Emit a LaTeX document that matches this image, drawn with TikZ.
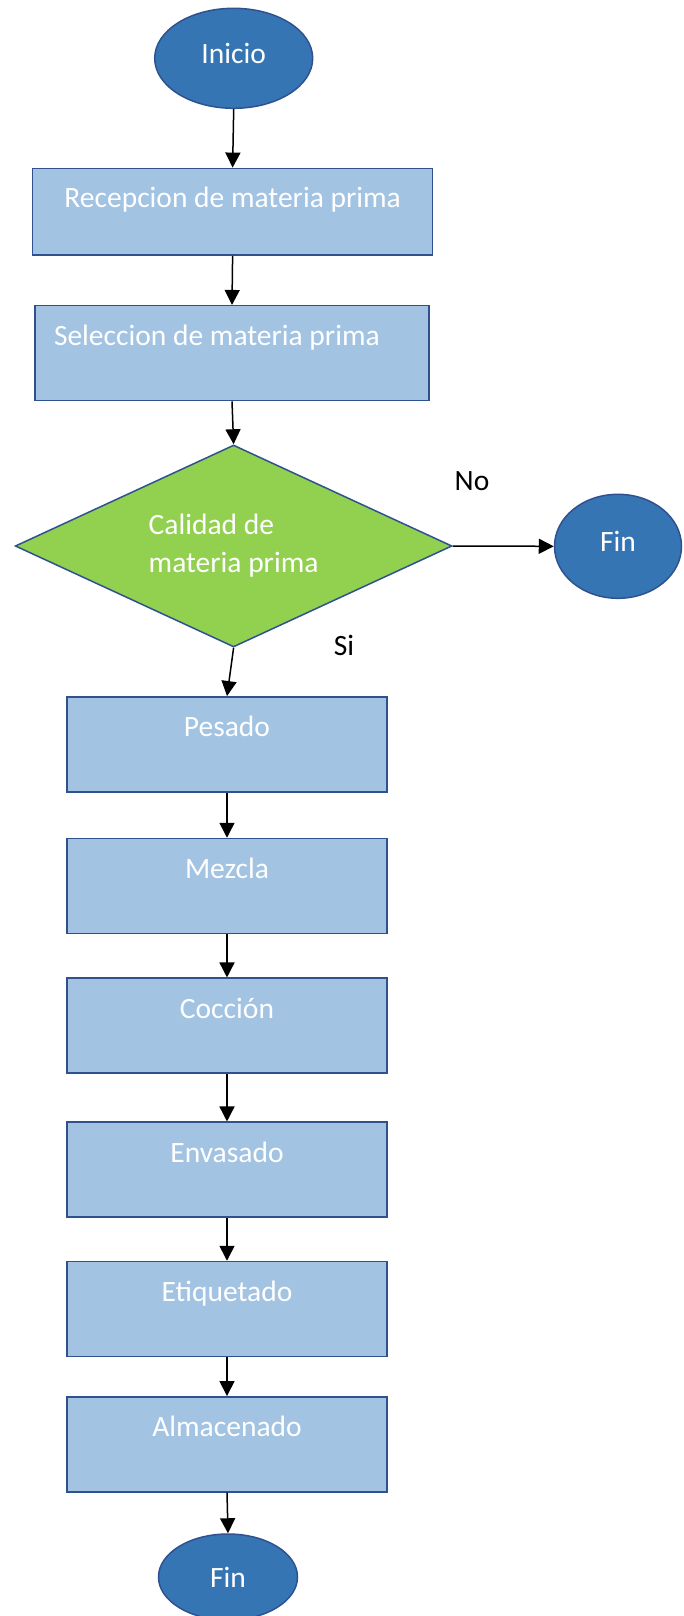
\documentclass[tikz,border=0pt]{standalone}
\usepackage{fontspec}
\setmainfont{Carlito}
\usetikzlibrary{shapes,arrows.meta,positioning}

\definecolor{azulfuerte}{HTML}{3675B4}
\definecolor{azulclaro}{HTML}{A2C3E2}
\definecolor{bordeazul}{HTML}{2F528F}
\definecolor{verdedec}{HTML}{92D050}

\tikzset{
  inicfin/.style={ellipse, draw=bordeazul, fill=azulfuerte, line width=1.5pt, text=white, inner sep=0pt},
  proceso/.style={rectangle, draw=bordeazul, fill=azulclaro, line width=1.5pt, text=white, inner ysep=0pt, minimum width=320pt, text height=40pt, text depth=55pt},
  decision/.style={diamond, draw=bordeazul, fill=verdedec, line width=1.5pt, text=white, inner sep=0pt, aspect=2.16, align=flush left},
  flecha/.style={-{Triangle[length=15pt,width=15pt]}, line width=1.5pt}
}

\begin{document}
\begin{tikzpicture}[x=1pt, y=-1pt, font=\fontsize{29.5}{38}\selectfont]
\useasboundingbox (0,0) rectangle (683,1616);

\node[inicfin, minimum width=158pt, minimum height=100pt, text depth=10pt] (inicio) at (233.7,58.3) {Inicio};
\node[proceso, minimum width=400pt, text height=39pt, text depth=47.7pt] (recepcion) at (232.6,211.7) {Recepcion de materia prima};
\node[proceso, minimum width=394pt, text width=356pt, inner xsep=19pt, align=flush left] (seleccion) at (232,353.2) {Seleccion de materia prima};

\node[decision, minimum width=436.8pt, minimum height=202pt] (calidad) at (233.6,546) {Calidad de\\materia prima};
\node[inicfin, minimum width=127pt, minimum height=104pt, text depth=10pt] (finno) at (618,546.3) {Fin};
\node[anchor=base] (no) at (472,490) {No};
\node[anchor=base] (si) at (344,655) {Si};

\foreach \n/\t/\y in {pesado/Pesado/744.3, mezcla/Mezcla/886, coccion/Cocción/1025.7, envasado/Envasado/1169.7, etiquetado/Etiquetado/1309, almacenado/Almacenado/1444.3}
    \node[proceso] (\n) at (227,\y) {\t};

\node[inicfin, minimum width=139pt, minimum height=86pt] (fin) at (228,1577) {Fin};

\draw[flecha] (inicio.south) -- (recepcion.north);
\draw[flecha] (recepcion.south) -- (seleccion.north);
\draw[flecha] (seleccion.south) -- (calidad.north);
\draw[flecha] (calidad.east) -- (finno.west);
\draw[flecha] (calidad.south) -- (pesado.north);
\foreach \a/\b in {pesado/mezcla, mezcla/coccion, coccion/envasado, envasado/etiquetado, etiquetado/almacenado, almacenado/fin}
    \draw[flecha] (\a.south) -- (\b.north);
\end{tikzpicture}
\end{document}
